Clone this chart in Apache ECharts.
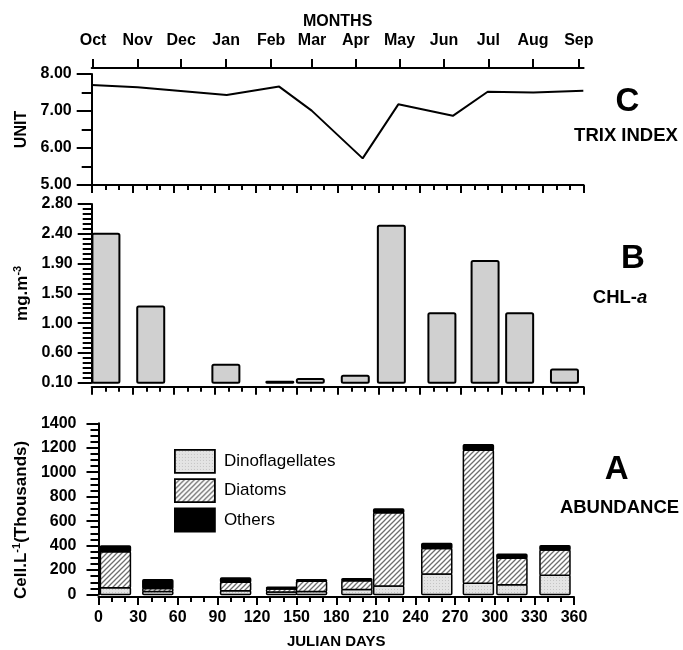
<!DOCTYPE html>
<html>
<head>
<meta charset="utf-8">
<script src="https://cdn.jsdelivr.net/npm/echarts@6/dist/echarts.min.js"></script>
<style>
  html, body { margin: 0; padding: 0; background: #fff; }
  #chart { width: 683px; height: 650px; }
</style>
</head>
<body>
<div id="chart"></div>
<script>
// month axis on top (positions in julian days)
const monthLabels = ['Oct', 'Nov', 'Dec', 'Jan', 'Feb', 'Mar', 'Apr', 'May', 'Jun', 'Jul', 'Aug', 'Sep']
const monthPos = [1, 33.6, 65.5, 98.4, 131.3, 161.3, 193.3, 225.3, 257.8, 290.3, 323, 356.5]

// C - TRIX index
const trixDays = [0, 33.6, 98.8, 137.2, 161, 198.3, 224.4, 264.3, 289.8, 323.2, 359.8]
const trixValues = [7.70, 7.64, 7.43, 7.66, 7.01, 5.72, 7.18, 6.87, 7.52, 7.50, 7.55]

// B - CHL-a
const chlDays = [10.4, 43.2, 98.2, 137.7, 160, 192.9, 219.3, 256.3, 287.9, 313.2, 346]
const chlValues = [2.35, 1.25, 0.37, 0.115, 0.155, 0.205, 2.47, 1.15, 1.94, 1.15, 0.30]

// A - abundance (thousands cells/L)
const abDays = [12.8, 44.9, 103.8, 138.6, 161.3, 195.6, 219.7, 256.1, 287.6, 313, 345.6]
const dinoValues = [55, 25, 30, 20, 25, 40, 70, 167, 92, 80, 157]
const diatomValues = [295, 25, 70, 25, 83, 73, 598, 210, 1088, 216, 207]
const otherValues = [47, 71, 35, 15, 13, 16, 32, 41, 45, 33, 35]

const font = '"Liberation Sans", Arial, Helvetica, sans-serif'
const black = '#000'

const hatchPattern = () => {
  const c = document.createElement('canvas')
  c.width = c.height = 5
  const g = c.getContext('2d')
  g.fillStyle = '#fff'
  g.fillRect(0, 0, 5, 5)
  g.strokeStyle = '#6e6e6e'
  g.lineWidth = 1.3
  g.beginPath()
  g.moveTo(-1, 6); g.lineTo(6, -1)
  g.moveTo(-1, 1); g.lineTo(1, -1)
  g.moveTo(4, 6); g.lineTo(6, 4)
  g.stroke()
  return { image: c, repeat: 'repeat' }
}

const dotPattern = () => {
  const c = document.createElement('canvas')
  c.width = c.height = 3
  const g = c.getContext('2d')
  g.fillStyle = '#e4e4e4'
  g.fillRect(0, 0, 3, 3)
  g.fillStyle = '#c4c4c4'
  g.fillRect(1, 1, 1, 1)
  return { image: c, repeat: 'repeat' }
}

const tickLabel = { color: black, fontFamily: font, fontWeight: 'bold', fontSize: 16 }
const line2 = { lineStyle: { color: black, width: 2 } }

const dayAxis = (grid, offset, showLabels) => ({
  type: 'value', gridIndex: grid, min: 0, max: 360, interval: 30, offset: offset,
  axisLine: { onZero: false, ...line2 },
  axisTick: { length: 8, lineStyle: { color: black, width: 2 } },
  minorTick: { show: true, splitNumber: 3, length: 5, lineStyle: { color: black, width: 2 } },
  splitLine: { show: false },
  axisLabel: showLabels ? { ...tickLabel, margin: 13 } : { show: false }
})

// stacked segments [day, low, high] for the abundance panel
const stackRows = (parts) => abDays.map((d, i) => {
  let low = 0
  for (let k = 0; k < parts.length - 1; k++) low += parts[k][i]
  return [d, low, low + parts[parts.length - 1][i]]
})

const segment = (fill) => (params, api) => {
  const hi = api.coord([api.value(0), api.value(2)])
  const lo = api.coord([api.value(0), api.value(1)])
  const w = 30
  return {
    type: 'rect',
    shape: { x: hi[0] - w / 2, y: hi[1], width: w, height: lo[1] - hi[1], r: 1 },
    style: { fill: fill, stroke: black, lineWidth: 1.5 }
  }
}

const dinoFill = dotPattern()
const diatomFill = hatchPattern()

const chart = echarts.init(document.getElementById('chart'))

chart.setOption({
  animation: false,
  textStyle: { fontFamily: font },
  grid: [
    { left: 91.7, right: 99.4, top: 74, height: 111 },
    { left: 91.7, right: 99.4, top: 204, height: 178.7 },
    { left: 98.5, right: 109, top: 423.3, height: 173.3 }
  ],
  xAxis: [
    dayAxis(0, 0, false),
    {
      type: 'value', gridIndex: 0, position: 'top', offset: 6, min: 0, max: 360,
      name: 'MONTHS', nameLocation: 'middle', nameGap: 38,
      nameTextStyle: { ...tickLabel },
      axisLine: { onZero: false, ...line2 },
      axisTick: { customValues: monthPos, length: 9, lineStyle: { color: black, width: 2 } },
      axisLabel: {
        ...tickLabel, margin: 19, customValues: monthPos,
        formatter: (v) => monthLabels[monthPos.indexOf(v)]
      },
      splitLine: { show: false }
    },
    dayAxis(1, 4, false),
    {
      ...dayAxis(2, 2.5, true),
      name: 'JULIAN DAYS', nameLocation: 'middle', nameGap: 37,
      nameTextStyle: { ...tickLabel, fontSize: 15 }
    }
  ],
  yAxis: [
    {
      type: 'value', gridIndex: 0, min: 5, max: 8, interval: 1,
      name: 'UNIT', nameLocation: 'middle', nameGap: 52,
      nameTextStyle: { ...tickLabel },
      axisLine: { show: true, ...line2 },
      axisTick: { length: 15, lineStyle: { color: black, width: 2 } },
      minorTick: { show: true, splitNumber: 2, length: 10, lineStyle: { color: black, width: 2 } },
      splitLine: { show: false },
      axisLabel: { ...tickLabel, margin: 20, formatter: (v) => v.toFixed(2) }
    },
    {
      type: 'value', gridIndex: 1, min: 0.1, max: 2.8, interval: 0.45,
      name: '{t|mg.m}{s|-3}', nameLocation: 'middle', nameGap: 51,
      nameTextStyle: {
        ...tickLabel,
        rich: {
          t: { ...tickLabel, fontSize: 17 },
          s: { ...tickLabel, fontSize: 11, verticalAlign: 'bottom', padding: [0, 0, 9, 0] }
        }
      },
      axisLine: { show: true, ...line2 },
      axisTick: { length: 14, lineStyle: { color: black, width: 2 } },
      minorTick: { show: true, splitNumber: 6, length: 9, lineStyle: { color: black, width: 2 } },
      splitLine: { show: false },
      axisLabel: { ...tickLabel, margin: 19, formatter: (v) => (Math.round(v * 10 + 1e-6) / 10).toFixed(2) }
    },
    {
      type: 'value', gridIndex: 2, min: 0, max: 1400, interval: 200,
      name: '{t|Cell.L}{s|-1}{t|(Thousands)}', nameLocation: 'middle', nameGap: 62,
      nameTextStyle: {
        ...tickLabel,
        padding: [0, 22, 0, 0],
        rich: {
          t: { ...tickLabel, fontSize: 17 },
          s: { ...tickLabel, fontSize: 11, verticalAlign: 'bottom', padding: [0, 0, 9, 0] }
        }
      },
      axisLine: { show: true, ...line2 },
      axisTick: { length: 12, lineStyle: { color: black, width: 2 } },
      minorTick: { show: true, splitNumber: 4, length: 8, lineStyle: { color: black, width: 2 } },
      splitLine: { show: false },
      axisLabel: { ...tickLabel, margin: 22, formatter: (v) => String(v) }
    }
  ],
  legend: {
    left: 174, top: 449, orient: 'vertical', padding: 0,
    itemWidth: 40, itemHeight: 23, itemGap: 4.5, icon: 'rect',
    data: ['Dinoflagellates', 'Diatoms', 'Others'],
    itemStyle: { borderColor: black, borderWidth: 1.8 },
    textStyle: { color: black, fontFamily: font, fontSize: 17, padding: [0, 0, 0, 4] }
  },
  series: [
    {
      type: 'line', xAxisIndex: 0, yAxisIndex: 0, symbol: 'none',
      lineStyle: { color: black, width: 2 },
      data: trixDays.map((d, i) => [d, trixValues[i]])
    },
    {
      type: 'custom', xAxisIndex: 2, yAxisIndex: 1,
      data: chlDays.map((d, i) => [d, chlValues[i]]),
      renderItem: (params, api) => {
        const top = api.coord([api.value(0), api.value(1)])
        const base = api.coord([api.value(0), 0.1])
        const w = 27
        return {
          type: 'rect',
          shape: { x: top[0] - w / 2, y: top[1], width: w, height: base[1] - top[1], r: 1.5 },
          style: { fill: '#d0d0d0', stroke: black, lineWidth: 2 }
        }
      }
    },
    {
      name: 'Dinoflagellates', type: 'custom', xAxisIndex: 3, yAxisIndex: 2,
      itemStyle: { color: dinoFill, borderColor: black, borderWidth: 1.5 },
      encode: { x: 0, y: [1, 2] },
      data: stackRows([dinoValues]),
      renderItem: segment(dinoFill)
    },
    {
      name: 'Diatoms', type: 'custom', xAxisIndex: 3, yAxisIndex: 2,
      itemStyle: { color: diatomFill, borderColor: black, borderWidth: 1.5 },
      encode: { x: 0, y: [1, 2] },
      data: stackRows([dinoValues, diatomValues]),
      renderItem: segment(diatomFill)
    },
    {
      name: 'Others', type: 'custom', xAxisIndex: 3, yAxisIndex: 2,
      itemStyle: { color: '#000', borderColor: black, borderWidth: 1.5 },
      encode: { x: 0, y: [1, 2] },
      data: stackRows([dinoValues.map((v, i) => v + diatomValues[i]), otherValues]),
      renderItem: segment('#000')
    }
  ],
  graphic: [
    { type: 'text', x: 627.5, y: 101.5, style: { text: 'C', fill: black, font: 'bold 33px ' + font, align: 'center', verticalAlign: 'middle' } },
    { type: 'text', x: 626, y: 136.3, style: { text: 'TRIX INDEX', fill: black, font: 'bold 18.5px ' + font, align: 'center', verticalAlign: 'middle' } },
    { type: 'text', x: 633, y: 259, style: { text: 'B', fill: black, font: 'bold 33px ' + font, align: 'center', verticalAlign: 'middle' } },
    {
      type: 'text', x: 620, y: 297.5,
      style: {
        text: '{b|CHL-}{i|a}', fill: black, align: 'center', verticalAlign: 'middle',
        rich: {
          b: { font: 'bold 18.5px ' + font, fill: black },
          i: { font: 'italic bold 18.5px ' + font, fill: black }
        }
      }
    },
    { type: 'text', x: 616.7, y: 470, style: { text: 'A', fill: black, font: 'bold 33px ' + font, align: 'center', verticalAlign: 'middle' } },
    { type: 'text', x: 619.5, y: 507.5, style: { text: 'ABUNDANCE', fill: black, font: 'bold 18.5px ' + font, align: 'center', verticalAlign: 'middle' } }
  ]
})
</script>
</body>
</html>
